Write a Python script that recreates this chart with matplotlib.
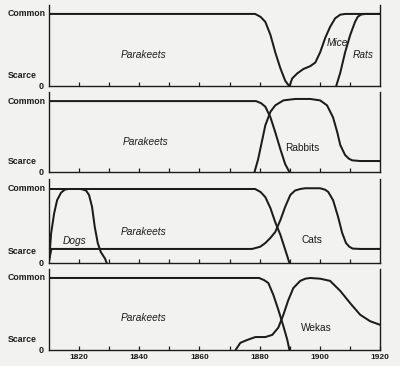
import matplotlib
matplotlib.use("Agg")
import matplotlib.pyplot as plt
from matplotlib.transforms import blended_transform_factory

plt.rcParams['font.family'] = ['Liberation Sans', 'DejaVu Sans']

# --- data (year, abundance: 0 = none, 1 = common) ---
para1_x = [1810, 1878.5, 1880.3, 1881.9, 1883.6, 1885.2, 1886.9, 1888.5, 1889.9]
para1_y = [1.0, 1.0, 0.96, 0.89, 0.71, 0.47, 0.25, 0.08, 0.0]
mice_x = [1889.9, 1890.8, 1892.5, 1894.5, 1896.8, 1898.5, 1900.1, 1901.8, 1903.4, 1905.1, 1906.8, 1908.4, 1920]
mice_y = [0.0, 0.11, 0.18, 0.24, 0.28, 0.33, 0.47, 0.67, 0.82, 0.94, 0.99, 1.0, 1.0]
rats_x = [1905.4, 1906.8, 1908.4, 1910.1, 1911.7, 1912.6, 1913.6, 1915, 1920]
rats_y = [0.0, 0.19, 0.47, 0.71, 0.89, 0.96, 0.99, 1.0, 1.0]

para2_x = [1810, 1878.8, 1880.5, 1881.9, 1883.6, 1885.2, 1886.9, 1888.5, 1889.9]
para2_y = [1.0, 1.0, 0.97, 0.92, 0.77, 0.56, 0.32, 0.11, 0.0]
rabbits_x = [1878.3, 1879.5, 1880.2, 1881.9, 1883.6, 1885.2, 1887.9, 1891.8, 1896.8, 1900.1, 1902.4,
             1904.4, 1905.8, 1906.8, 1908.4, 1909.6, 1910.7, 1913.4, 1920]
rabbits_y = [0.0, 0.18, 0.32, 0.66, 0.85, 0.94, 1.01, 1.03, 1.03, 1.01, 0.94,
             0.77, 0.56, 0.38, 0.24, 0.19, 0.165, 0.155, 0.155]

para3_x = [1810, 1878.5, 1880.3, 1881.9, 1883.6, 1885.2, 1886.9, 1888.5, 1889.9]
para3_y = [1.0, 1.0, 0.96, 0.89, 0.74, 0.55, 0.38, 0.18, 0.0]
dogs_x = [1810, 1810.7, 1811.7, 1812.7, 1814, 1815.2, 1816.3, 1820.6, 1822.3, 1823.3, 1824.3,
          1825.2, 1826.2, 1827.2, 1828.6, 1829.2]
dogs_y = [0.01, 0.4, 0.67, 0.85, 0.95, 0.99, 1.0, 1.0, 0.98, 0.92, 0.76,
          0.49, 0.27, 0.15, 0.06, 0.0]
cats_x = [1810, 1810.8, 1877.5, 1880.2, 1881.9, 1883.6, 1885.2, 1886.9, 1888.5, 1890.2,
          1891.8, 1893.5, 1895.1, 1900.1, 1901.8, 1902.8, 1904.4, 1906.1, 1907.4, 1908.7, 1909.8,
          1910.9, 1913.4, 1920]
cats_y = [0.03, 0.19, 0.19, 0.22, 0.27, 0.34, 0.42, 0.58, 0.76, 0.92,
          0.98, 1.0, 1.01, 1.01, 0.99, 0.96, 0.85, 0.62, 0.41, 0.27, 0.22,
          0.195, 0.19, 0.19]

para4_x = [1810, 1879.8, 1881.5, 1882.9, 1884.6, 1886.2, 1887.9, 1889.2, 1889.9]
para4_y = [1.0, 1.0, 0.97, 0.93, 0.76, 0.56, 0.33, 0.14, 0.0]
wekas_x = [1872, 1873.6, 1875.9, 1878.6, 1881.9, 1884.2, 1886.2, 1887.9, 1889.5, 1891.2,
           1893.5, 1895.2, 1896.8, 1900.1, 1903.4, 1906.8, 1910.1, 1913.4, 1916.7, 1920]
wekas_y = [0.0, 0.1, 0.14, 0.18, 0.18, 0.21, 0.31, 0.49, 0.69, 0.86,
           0.96, 0.99, 1.0, 0.99, 0.96, 0.82, 0.65, 0.49, 0.4, 0.35]

panels = [
    [(para1_x, para1_y), (mice_x, mice_y), (rats_x, rats_y)],
    [(para2_x, para2_y), (rabbits_x, rabbits_y)],
    [(para3_x, para3_y), (dogs_x, dogs_y), (cats_x, cats_y)],
    [(para4_x, para4_y), (wekas_x, wekas_y)],
]
# label text, x, y, italic
labels = [
    [("Parakeets", 1841.5, 0.43, True), ("Mice", 1905.8, 0.6, True), ("Rats", 1914.4, 0.44, True)],
    [("Parakeets", 1842, 0.42, True), ("Rabbits", 1894, 0.34, False)],
    [("Parakeets", 1841.5, 0.42, True), ("Dogs", 1818.6, 0.3, True), ("Cats", 1897.5, 0.31, False)],
    [("Parakeets", 1841.5, 0.44, True), ("Wekas", 1899, 0.3, False)],
]
year_ticks = [1820, 1840, 1860, 1880, 1900, 1920]
minor_ticks = list(range(1820, 1920, 10))

# panel layout in figure fractions: bottom, height
boxes = [(0.7637, 0.224), (0.530, 0.219), (0.2814, 0.2285), (0.0437, 0.2224)]

bg = '#f2f2f0'
ink = '#1c1c1c'
fig = plt.figure(figsize=(4, 3.66), dpi=100, facecolor=bg)

for i, (curves, labs, (b, h)) in enumerate(zip(panels, labels, boxes)):
    ax = fig.add_axes([0.1225, b, 0.8275, h])
    ax.set_facecolor(bg)
    for xs, ys in curves:
        ax.plot(xs, ys, color=ink, lw=1.45, solid_joinstyle='round', solid_capstyle='round')
    for txt, tx, ty, it in labs:
        ax.text(tx, ty, txt, ha='center', va='center', fontsize=7.3,
                style='italic' if it else 'normal', color=ink)
    ax.set_xlim(1810, 1920)
    ax.set_ylim(0, 1.13)
    ax.spines['top'].set_visible(False)
    for s in ['left', 'right', 'bottom']:
        ax.spines[s].set_color(ink)
        ax.spines[s].set_linewidth(1.0)
    ax.set_yticks([])
    ax.tick_params(axis='x', which='both', direction='in', length=2.8, width=0.9, colors=ink)
    if i == 3:
        ax.set_xticks(year_ticks)
        ax.set_xticklabels([str(y) for y in year_ticks], fontsize=6, fontweight='bold')
        ax.tick_params(axis='x', which='major', pad=3)
    else:
        ax.set_xticks([])
    ax.set_xticks(minor_ticks, minor=True)
    tr = blended_transform_factory(fig.transFigure, ax.transData)
    ax.text(0.02, 1.0, "Common", transform=tr, ha='left', va='center',
            fontsize=6.3, fontweight='bold', color=ink)
    ax.text(0.02, 0.15, "Scarce", transform=tr, ha='left', va='center',
            fontsize=6.3, fontweight='bold', color=ink)
    ax.text(0.109, 0.0, "0", transform=tr, ha='right', va='center',
            fontsize=6.5, fontweight='bold', color=ink)

fig.savefig("out.png", dpi=100, facecolor=bg)
